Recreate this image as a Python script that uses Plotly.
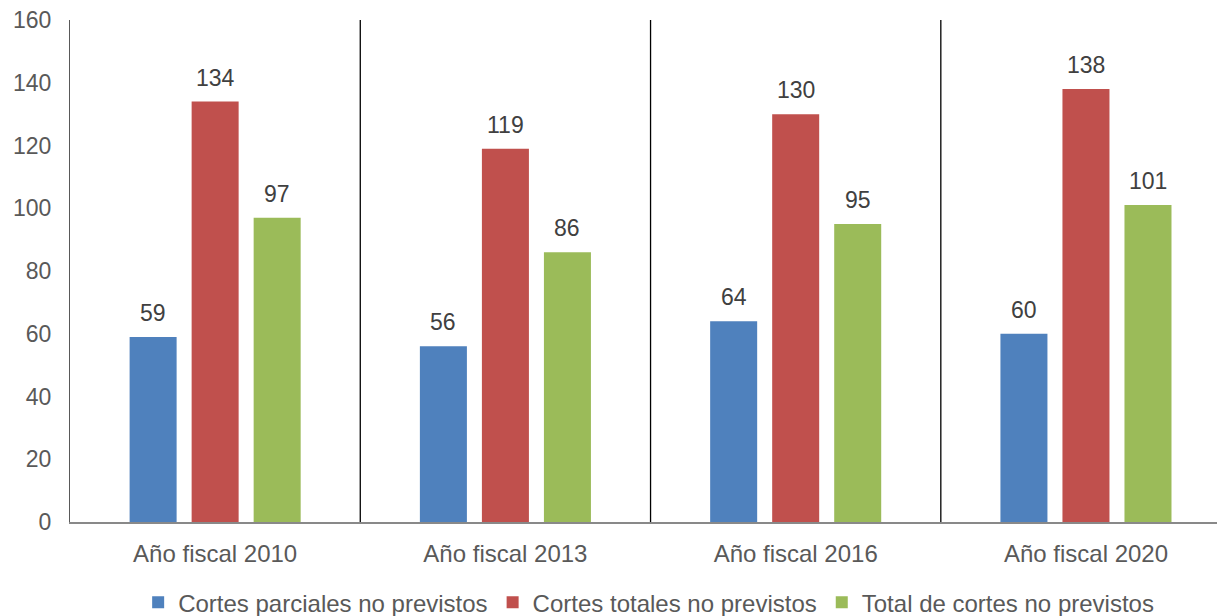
import plotly.graph_objects as go

categories = ["Año fiscal 2010", "Año fiscal 2013", "Año fiscal 2016", "Año fiscal 2020"]
parciales = [59, 56, 64, 60]
totales = [134, 119, 130, 138]
total_cortes = [97, 86, 95, 101]
series_names = ["Cortes parciales no previstos", "Cortes totales no previstos", "Total de cortes no previstos"]
colors = ["#4F81BD", "#C0504D", "#9BBB59"]

FONT = "Liberation Sans, Arial, sans-serif"
FS = 23
SLOT_PX = 62  # horizontal distance between bar centres in a group

fig = go.Figure()
series = [parciales, totales, total_cortes]
for name, vals, col in zip(series_names, series, colors):
    fig.add_trace(go.Bar(
        x=categories, y=vals, name=name, marker_color=col, marker_line_width=0,
    ))

# value labels above bars
for si, vals in enumerate(series):
    for cat, v in zip(categories, vals):
        fig.add_annotation(x=cat, y=v, text=str(v), showarrow=False,
                           xref="x", yref="y", yanchor="bottom",
                           xshift=(si - 1) * SLOT_PX, yshift=9,
                           font=dict(family=FONT, size=FS, color="#404040"))

for i in range(len(categories) - 1):
    fig.add_shape(type="line", xref="x", yref="y", x0=i + 0.5, x1=i + 0.5, y0=0, y1=160,
                  line=dict(color="#000000", width=1.3))

fig.update_layout(
    width=1217, height=608,
    margin=dict(l=62, r=0, t=12, b=94, autoexpand=False),
    paper_bgcolor="white", plot_bgcolor="white",
    barmode="group", bargap=0.359, bargroupgap=0.242,
    showlegend=True,
    legend=dict(orientation="h", x=0.501, xanchor="center", y=0.022, yanchor="middle",
                yref="container",
                font=dict(family=FONT, size=24, color="#595959"), itemwidth=30,
                traceorder="normal", tracegroupgap=0),
    font=dict(family=FONT, size=FS, color="#595959"),
)
fig.update_xaxes(range=[-0.5, 3.479], showline=True, linecolor="#898989", linewidth=2,
                 ticks="", tickfont=dict(family=FONT, size=24, color="#595959"),
                 ticklabelstandoff=9, fixedrange=True, automargin=False)
fig.update_yaxes(range=[0, 160], dtick=20, showgrid=False, zeroline=False,
                 showline=True, linecolor="#595959", linewidth=1.3, ticks="",
                 tickfont=dict(family=FONT, size=FS, color="#595959"),
                 ticklabelstandoff=13, automargin=False, ticklabeloverflow="allow")

fig.write_html("out.html")
